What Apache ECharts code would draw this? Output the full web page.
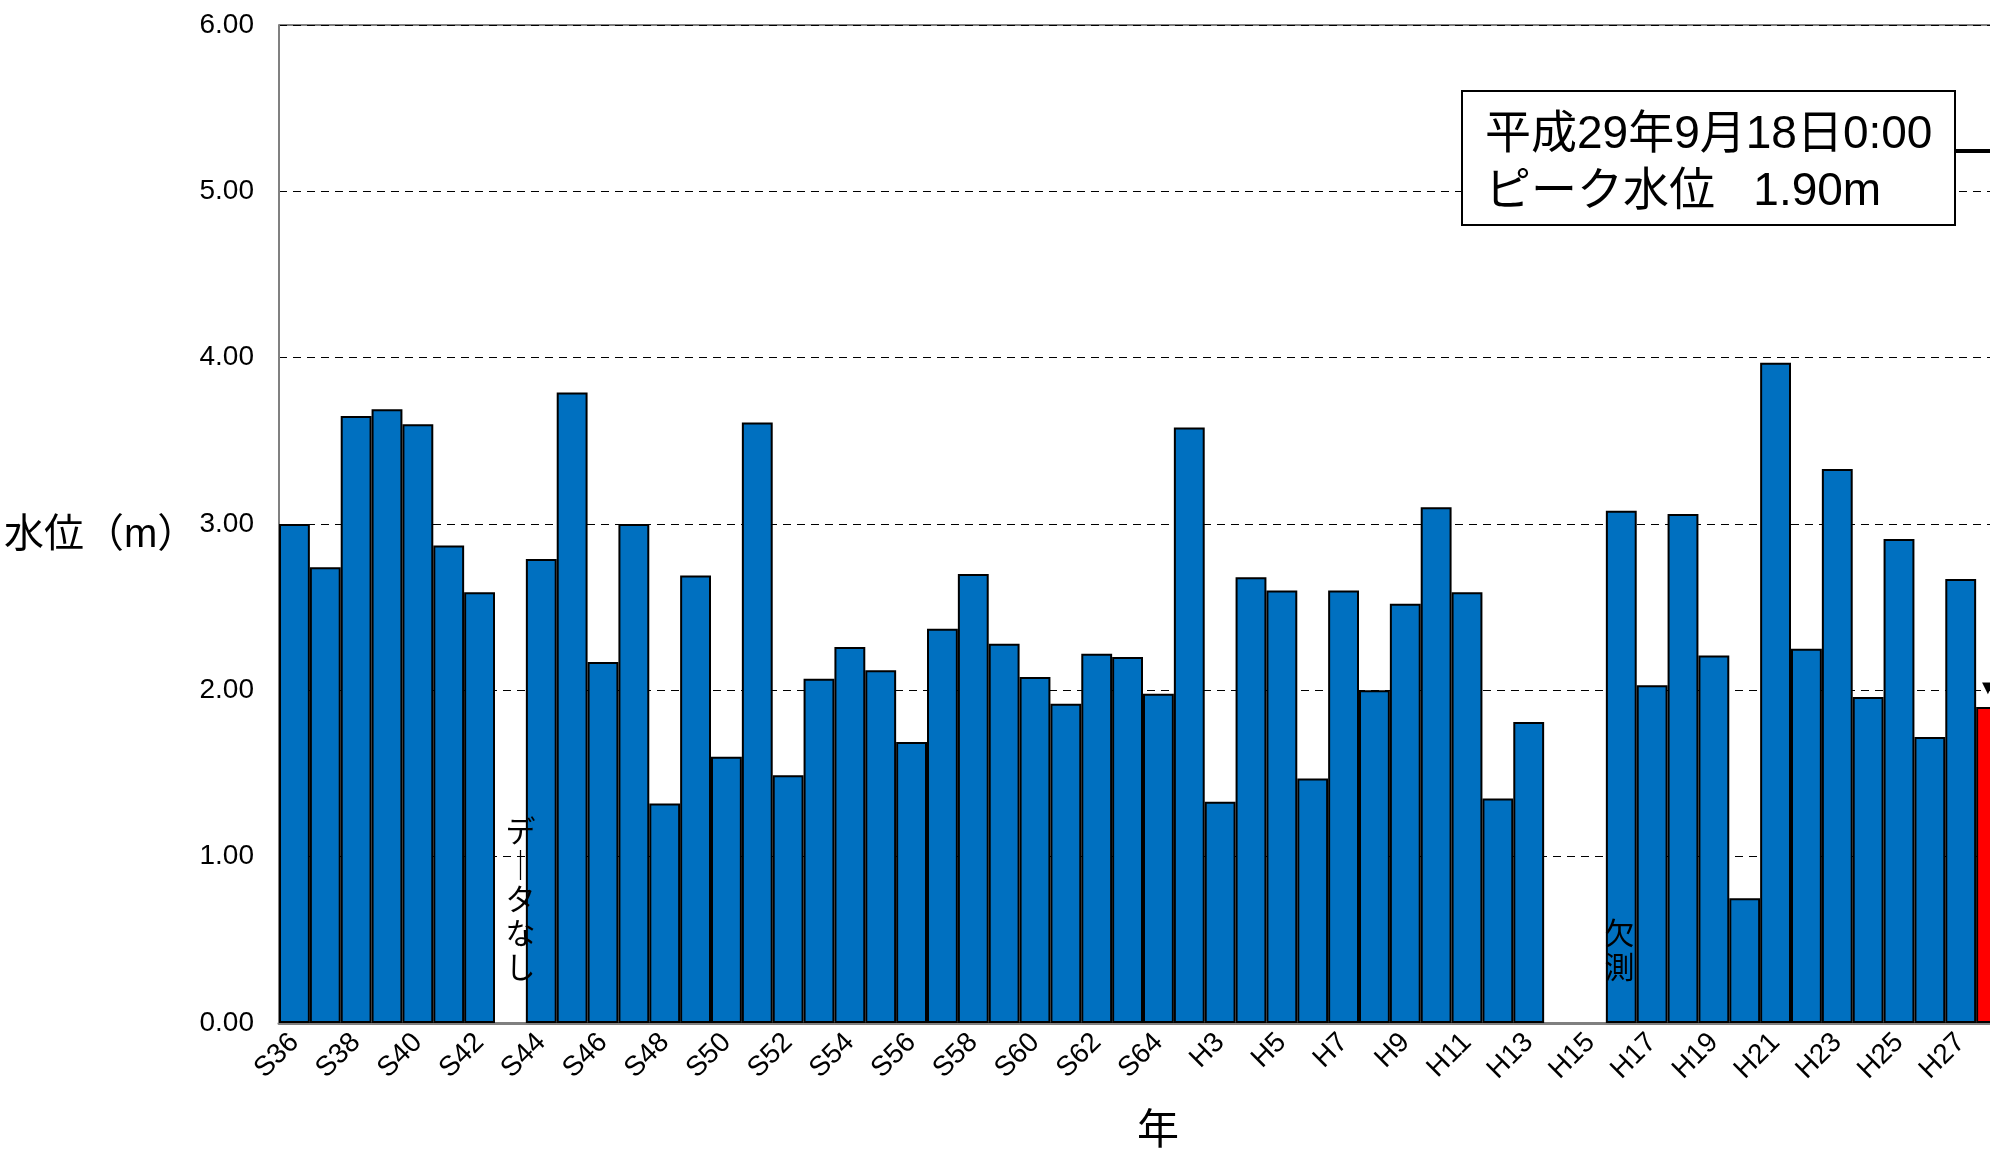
<!DOCTYPE html>
<html>
<head>
<meta charset="utf-8">
<script src="https://cdn.jsdelivr.net/npm/echarts@6/dist/echarts.min.js"></script>
<style>
  html, body { margin: 0; padding: 0; background: #ffffff; }
  #chart { width: 1990px; height: 1149px; }
</style>
</head>
<body>
<div id="chart"></div>
<script>
// 年（昭和36年～平成29年）
const years = [
  'S36', 'S37', 'S38', 'S39', 'S40', 'S41', 'S42', 'S43', 'S44', 'S45',
  'S46', 'S47', 'S48', 'S49', 'S50', 'S51', 'S52', 'S53', 'S54', 'S55',
  'S56', 'S57', 'S58', 'S59', 'S60', 'S61', 'S62', 'S63', 'S64',
  'H2', 'H3', 'H4', 'H5', 'H6', 'H7', 'H8', 'H9', 'H10', 'H11',
  'H12', 'H13', 'H14', 'H15', 'H16', 'H17', 'H18', 'H19', 'H20', 'H21',
  'H22', 'H23', 'H24', 'H25', 'H26', 'H27', 'H29',
];

// 年最高水位（m）、null はデータなし／欠測
const peakLevels = [
  3.00, 2.74, 3.65, 3.69, 3.60, 2.87, 2.59, null, 2.79, 3.79,
  2.17, 3.00, 1.32, 2.69, 1.60, 3.61, 1.49, 2.07, 2.26, 2.12,
  1.69, 2.37, 2.70, 2.28, 2.08, 1.92, 2.22, 2.20, 1.98,
  3.58, 1.33, 2.68, 2.60, 1.47, 2.60, 2.00, 2.52, 3.10, 2.59,
  1.35, 1.81, null, null, 3.08, 2.03, 3.06, 2.21, 0.75, 3.97,
  2.25, 3.33, 1.96, 2.91, 1.72, 2.67, 1.90,
];

const yTicks = [0, 1, 2, 3, 4, 5, 6];
const currentYear = 'H29';
const noDataYear = 'S43';
const missingYear = 'H15';

const FONT = "'Liberation Sans', 'Noto Sans CJK JP', sans-serif";
const BLUE = '#0070C0';

const barData = peakLevels.map((v, i) => {
  if (years[i] === currentYear) {
    return { value: v, itemStyle: { color: '#FF0000' } };
  }
  return v;
});

const chart = echarts.init(document.getElementById('chart'));

const option = {
  animation: false,
  backgroundColor: '#ffffff',
  grid: {
    left: 279,
    top: 25,
    bottom: 126,
    right: -17,
    containLabel: false,
    outerBoundsMode: 'none',
    show: true,
    borderColor: '#000000',
    borderWidth: 1,
    backgroundColor: 'transparent',
  },
  xAxis: {
    type: 'category',
    data: years,
    name: '年',
    nameLocation: 'middle',
    nameGap: 88,
    nameTextStyle: {
      fontFamily: FONT,
      fontSize: 42,
      color: '#000000',
      padding: [0, 0, 0, 30],
    },
    axisTick: { show: false },
    axisLine: {
      lineStyle: { color: '#808080', width: 3 },
    },
    axisLabel: {
      interval: 1,
      rotate: 45,
      margin: 15,
      fontFamily: FONT,
      fontSize: 28,
      color: '#000000',
    },
  },
  yAxis: {
    type: 'value',
    min: yTicks[0],
    max: yTicks[yTicks.length - 1],
    interval: 1,
    axisTick: { show: false },
    axisLine: {
      show: true,
      lineStyle: { color: '#808080', width: 2 },
    },
    axisLabel: {
      margin: 25,
      fontFamily: FONT,
      fontSize: 28,
      color: '#000000',
      formatter: (v) => v.toFixed(2),
    },
    splitLine: {
      show: true,
      lineStyle: { color: '#000000', type: [8, 6], width: 1.2 },
    },
  },
  series: [
    {
      type: 'bar',
      data: barData,
      barCategoryGap: '0%',
      itemStyle: {
        color: BLUE,
        borderColor: '#000000',
        borderWidth: 2,
      },
      markPoint: {
        symbol: 'circle',
        symbolSize: 0,
        silent: true,
        label: {
          show: true,
          position: 'inside',
          fontFamily: FONT,
          fontSize: 30,
          lineHeight: 34,
          color: '#000000',
          align: 'center',
          verticalAlign: 'middle',
        },
        data: [
          {
            coord: [noDataYear, 0.73],
            label: { formatter: 'デ\n｜\nタ\nな\nし', offset: [10, 0] },
          },
          {
            coord: [missingYear, 0.42],
            label: { formatter: '欠\n測', offset: [29, 0] },
          },
        ],
      },
    },
  ],
  graphic: [
    // 縦軸タイトル
    {
      type: 'text',
      left: 4,
      top: 516,
      style: {
        text: '水位（m）',
        font: `40px ${FONT}`,
        fill: '#000000',
      },
    },
    {
      type: 'line',
      z: 10,
      shape: { x1: 1955, y1: 151, x2: 1995, y2: 151 },
      style: { stroke: '#000000', lineWidth: 4 },
    },
    {
      type: 'rect',
      z: 11,
      shape: { x: 1462, y: 91, width: 493, height: 134 },
      style: { fill: '#ffffff', stroke: '#000000', lineWidth: 2 },
    },
    {
      type: 'text',
      z: 12,
      left: 1485,
      top: 112,
      style: {
        text: '平成29年9月18日0:00',
        font: `46px ${FONT}`,
        fill: '#000000',
      },
    },
    {
      type: 'text',
      z: 12,
      left: 1485,
      top: 169,
      style: {
        text: 'ピーク水位   1.90m',
        font: `46px ${FONT}`,
        fill: '#000000',
      },
    },
    {
      type: 'text',
      z: 12,
      left: 1978,
      top: 678,
      style: {
        text: '▼',
        font: `20px ${FONT}`,
        fill: '#000000',
      },
    },
  ],
};

chart.setOption(option);
</script>
</body>
</html>
